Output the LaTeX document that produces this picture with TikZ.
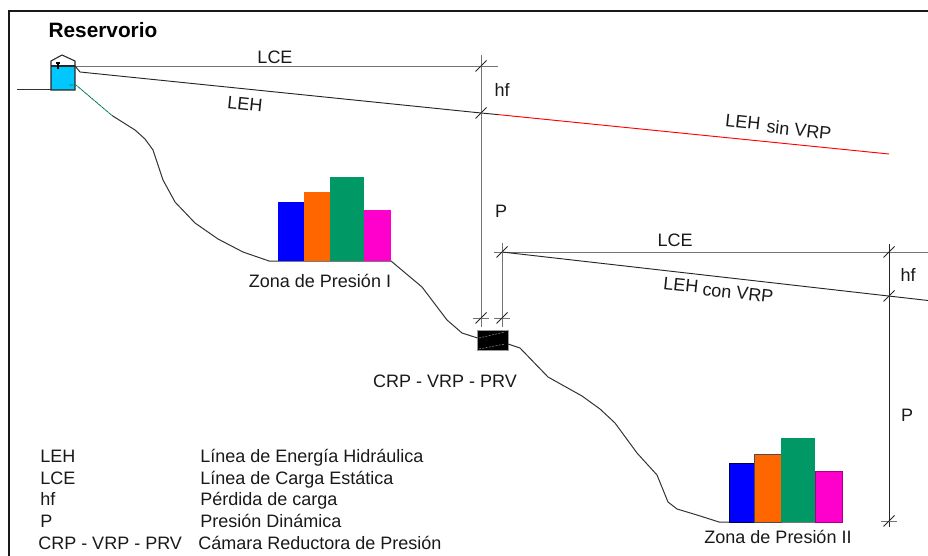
\documentclass[tikz,border=0pt]{standalone}
\usepackage{fontspec}
\setmainfont{Liberation Sans}
\usetikzlibrary{calc}

\definecolor{waterBlue}{RGB}{0,200,255}
\definecolor{barBlue}{RGB}{0,0,255}
\definecolor{barOrange}{RGB}{255,102,0}
\definecolor{barGreen}{RGB}{0,153,102}
\definecolor{barPink}{RGB}{255,0,204}

\tikzset{
  txt/.style={inner sep=0pt, font=\fontsize{13.5}{16}\selectfont, text=black!90},
  keytxt/.style={txt, anchor=base west},
  slantedtxt/.style={txt, rotate=-6},
  headline/.style={line width=.7pt, black!85},
  guideline/.style={line width=.7pt, black!55},
  groundline/.style={line width=.75pt, black!80},
}

\begin{document}
\begin{tikzpicture}[x=.75pt, y=-.75pt]
  \useasboundingbox (0,0) rectangle (928,556);

  % frame, open to the right and below
  \draw[line width=1.3pt, black!90] (9,556) |- (928,11);

  % reservoir
  \fill[waterBlue] (51,66) rectangle (75,90);
  \draw[line width=.8pt, black!85] (51,90) -- (51,61) -- (62,55) -- (75,61) -- (75,90) -- cycle;
  \draw[line width=.8pt, black!85] (51,66) -- (75,66);
  \draw[line width=.8pt] (58,64) -- (58,69);
  \fill (56,64.5) rectangle (60,62.5);
  \draw[groundline] (17,90) -- (51,90);
  \node[txt, font=\fontsize{15.6}{18}\bfseries\selectfont, text=black] (reservoirTitle) at (103,30) {Reservorio};

  \coordinate (tankTop) at (75,66);
  \coordinate (tankOut) at (69,85);

  % first head lines
  \coordinate (lceEnd)   at (498,66);
  \coordinate (hfTop)    at (481,66);
  \coordinate (hfLow)    at (481,113);
  \coordinate (lehKnee)  at (498,114.6);
  \coordinate (redEnd)   at (889,154);
  \coordinate (pTop)     at (481,55);
  \coordinate (pBase)    at (481,318);
  \coordinate (pEnd)     at (481,327);

  \draw[guideline] (tankTop) -- (lceEnd);
  \draw[headline] (tankTop) -- (80,72) -- (hfLow) -- (lehKnee);
  \draw[red, line width=.7pt] (lehKnee) -- (redEnd);
  \draw[guideline] (pTop) -- (pEnd);
  \draw[guideline] ($(pBase)+(-8,0)$) -- ($(pBase)+(8,0)$);

  % second head lines, after the chamber
  \coordinate (lceBStart) at (494,252);
  \coordinate (lceBEnd)   at (928,252);
  \coordinate (lehBStart) at (502,252);
  \coordinate (lehBEnd)   at (928,300.5);
  \coordinate (qTop)      at (502,243);
  \coordinate (qBase)     at (502,318);
  \coordinate (qEnd)      at (502,327);
  \coordinate (rTop)      at (889,244);
  \coordinate (rHigh)     at (889,252);
  \coordinate (rMid)      at (889,296);
  \coordinate (rBase)     at (889,521);
  \coordinate (rEnd)      at (889,527);

  \draw[guideline] (lceBStart) -- (lceBEnd);
  \draw[headline] (lehBStart) -- (lehBEnd);
  \draw[guideline] (qTop) -- (qEnd);
  \draw[guideline] ($(qBase)+(-8,0)$) -- ($(qBase)+(8,0)$);
  \draw[headline] (rTop) -- (rEnd);
  \draw[guideline] ($(rBase)+(-8,0)$) -- ($(rBase)+(8,0)$);

  % ticks
  \foreach \tk in {hfTop, hfLow, pBase, lehBStart, qBase, rHigh, rMid, rBase}
    \draw[line width=.7pt, black!85] ($(\tk)+(-5.5,5.5)$) -- ($(\tk)+(5.5,-5.5)$);

  % chamber
  \node[fill=black, draw=black!40, line width=.4pt, minimum width=22.9pt, minimum height=15pt, inner sep=0pt] (chamber) at (492.7,340) {};
  \draw[black!45, line width=.4pt, dash pattern=on 1.5pt off 1pt] (479,338) -- (505,332);
  \draw[black!45, line width=.4pt, dash pattern=on 1.5pt off 1pt] (479,349) -- (505,344);

  % terrain
  \coordinate (chamberIn) at (477.5,338);
  \coordinate (chamberOut) at (508,344);
  \draw[barGreen!80!black, line width=.6pt, dash pattern=on 3pt off .4pt] (tankOut) -- (76,85) -- (112,115.5);
  \draw[groundline] (112,115.5) -- (135,130) -- (145,139) -- (153,150) -- (163,180) -- (175,202)
     -- (195,223) -- (218,239) -- (243,252) -- (269,261) -- (391,261)
     -- (422,287) -- (447,320) -- (462,333) -- (chamberIn);
  \draw[groundline] (chamberOut) -- (520,348) -- (548,377) -- (582,396) -- (600,409)
     -- (615,423) -- (637,453) -- (657,475) -- (668,502) -- (677,509) -- (697,515)
     -- (719,522) -- (842,522);

  % buildings, first zone
  \fill[barBlue]   (278,202) rectangle (304,261);
  \fill[barOrange] (304,192) rectangle (330,261);
  \fill[barGreen]  (330,177) rectangle (364,261);
  \fill[barPink]   (364,210) rectangle (391,261);

  % buildings, second zone
  \filldraw[fill=barBlue, draw=black!70!blue, line width=.5pt]   (729,463) rectangle (754,522);
  \filldraw[fill=barOrange, draw=black!70, line width=.5pt] (754,454) rectangle (781,522);
  \fill[barGreen]  (781,438) rectangle (815,522);
  \filldraw[fill=barPink, draw=black!35!barPink, line width=.5pt]   (815,471) rectangle (842,522);

  % labels along the lines
  \node[txt] (lceA) at (275,57) {LCE};
  \node[slantedtxt] (lehA) at (245,104) {LEH};
  \node[txt] (hfA) at (502,90) {hf};
  \node[txt] (pA) at (501,211) {P};
  \node[slantedtxt] (lehRed) at (743,122) {LEH};
  \node[slantedtxt] (sinVrp) at (799,130) {sin VRP};
  \node[txt] (lceB) at (675,240) {LCE};
  \node[slantedtxt] (lehB) at (681,285) {LEH};
  \node[slantedtxt] (conVrp) at (738,293) {con VRP};
  \node[txt] (hfB) at (908,275) {hf};
  \node[txt] (pB) at (907,415) {P};

  \node[txt] (zoneOne) at (320,281) {Zona de Presión I};
  \node[txt] (chamberName) at (445,381) {CRP - VRP - PRV};
  \node[txt] (zoneTwo) at (778,537) {Zona de Presión II};

  % legend
  \node[keytxt] (keyLeh) at (40,462) {LEH};
  \node[keytxt] (keyLce) at (40,484) {LCE};
  \node[keytxt] (keyHf)  at (40,505.5) {hf};
  \node[keytxt] (keyP)   at (40,527) {P};
  \node[keytxt] (keyCrp) at (38,549) {CRP - VRP - PRV};
  \node[keytxt] (textLeh) at (200,462) {Línea de Energía Hidráulica};
  \node[keytxt] (textLce) at (200,484) {Línea de Carga Estática};
  \node[keytxt] (textHf)  at (200,505.5) {Pérdida de carga};
  \node[keytxt] (textP)   at (200,527) {Presión Dinámica};
  \node[keytxt] (textCrp) at (198,549) {Cámara Reductora de Presión};
\end{tikzpicture}
\end{document}
